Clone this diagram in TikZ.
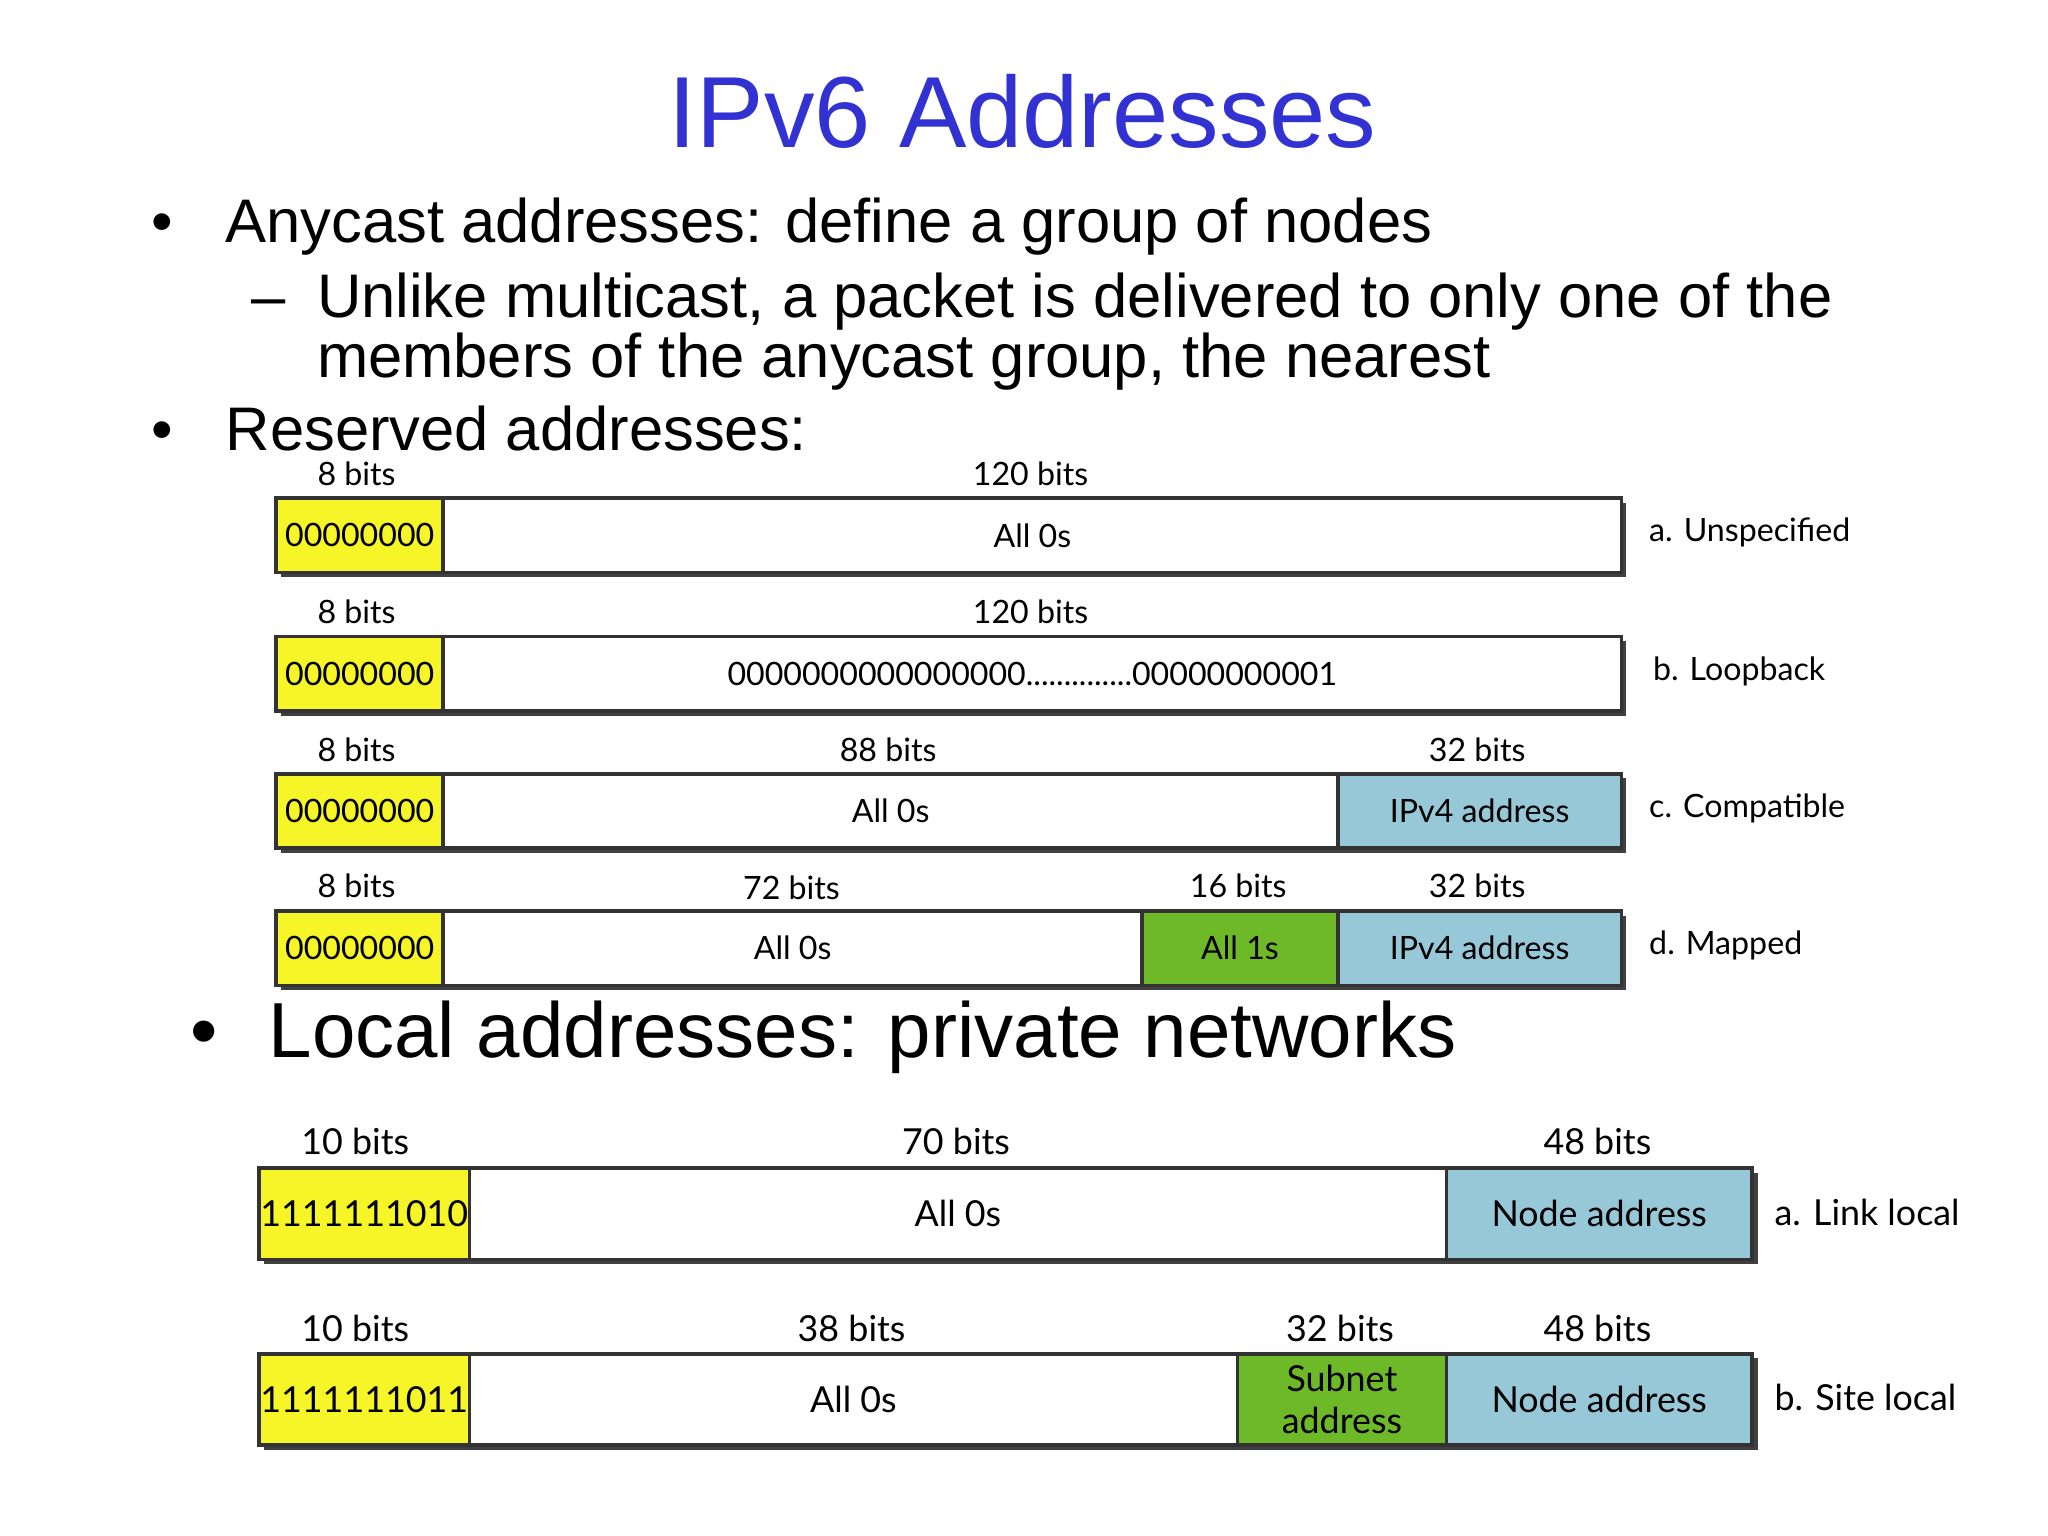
\documentclass[tikz,border=0pt]{standalone}
\usepackage{fontspec}
\setmainfont{Liberation Sans}
\newfontfamily\dfont{Lato}
\begin{document}
\begin{tikzpicture}[x=0.01cm,y=-0.01cm,
  fld/.style={draw=black!80,line width=0.8pt,minimum height=57*0.01cm,inner sep=0pt,anchor=north west,font=\dfont\fontsize{7}{8}\selectfont},
  fldb/.style={fld,minimum height=70*0.01cm,font=\dfont\fontsize{7.8}{8.5}\selectfont},
  bits/.style={font=\dfont\fontsize{7}{8}\selectfont,anchor=base,inner sep=0pt},
  bitsb/.style={font=\dfont\fontsize{7.8}{8.5}\selectfont,anchor=base,inner sep=0pt},
  lab/.style={font=\dfont\fontsize{7}{8}\selectfont,anchor=west,inner sep=0pt},
  labb/.style={font=\dfont\fontsize{7.8}{8.5}\selectfont,anchor=west,inner sep=0pt},
  body/.style={anchor=base west,inner sep=0pt,font=\fontsize{13.4}{14}\selectfont}]
\definecolor{yel}{RGB}{245,245,40}
\definecolor{blu}{RGB}{150,200,215}
\definecolor{grn}{RGB}{110,185,40}
\definecolor{ttl}{RGB}{50,50,210}
\useasboundingbox (0,0) rectangle (1568,1176);
\node[text=ttl,font=\fontsize{22}{24}\selectfont] (title) at (783,85) {IPv6 Addresses};
\node[body] (b1) at (115,186) {•};
\node[body] (t1) at (172,186) {Anycast addresses: define a group of nodes};
\node[body] (d1) at (192,243) {–};
\node[body] (t2) at (242,243) {Unlike multicast, a packet is delivered to only one of the};
\node[body] (t3) at (242,289) {members of the anycast group, the nearest};
\node[body] (b2) at (115,345) {•};
\node[body] (t4) at (172,345) {Reserved addresses:};
\node[body,font=\fontsize{17}{18}\selectfont] (b3) at (145,810) {•};
\node[body,font=\fontsize{17}{18}\selectfont] (t5) at (205,810) {Local addresses: private networks};
% shadows
\foreach \y in {380,486,591,696}{\fill[black!75] (215,\y+5) rectangle (1245,\y+62);}
\foreach \y in {893,1035}{\fill[black!75] (202,\y+5) rectangle (1346,\y+75);}
% row a
\node[fld,fill=yel,minimum width=128*0.01cm] (ay) at (210,380) {00000000};
\node[fld,fill=white,minimum width=902*0.01cm] (aw) at (338,380) {All 0s};
\node[bits] at (273,372) {8 bits}; \node[bits] at (789,372) {120 bits};
\node[lab] (al) at (1262,408) {a. Unspecified};
% row b
\node[fld,fill=yel,minimum width=128*0.01cm] (by) at (210,486) {00000000};
\node[fld,fill=white,minimum width=902*0.01cm] (bw) at (338,486) {0000000000000000..............00000000001};
\node[bits] at (273,477) {8 bits}; \node[bits] at (789,477) {120 bits};
\node[lab] (bl) at (1265,514) {b. Loopback};
% row c
\node[fld,fill=yel,minimum width=128*0.01cm] (cy) at (210,591) {00000000};
\node[fld,fill=white,minimum width=685*0.01cm] (cw) at (338,591) {All 0s};
\node[fld,fill=blu,minimum width=217*0.01cm] (cb) at (1023,591) {IPv4 address};
\node[bits] at (273,583) {8 bits}; \node[bits] at (680,583) {88 bits}; \node[bits] at (1131,583) {32 bits};
\node[lab] (cl) at (1262,619) {c. Compatible};
% row d
\node[fld,fill=yel,minimum width=128*0.01cm] (dy) at (210,696) {00000000};
\node[fld,fill=white,minimum width=535*0.01cm] (dw) at (338,696) {All 0s};
\node[fld,fill=grn,minimum width=150*0.01cm] (dg) at (873,696) {All 1s};
\node[fld,fill=blu,minimum width=217*0.01cm] (db) at (1023,696) {IPv4 address};
\node[bits] at (273,687) {8 bits}; \node[bits] at (606,689) {72 bits}; \node[bits] at (948,687) {16 bits}; \node[bits] at (1131,687) {32 bits};
\node[lab] (dl) at (1262,724) {d. Mapped};
% local a
\node[fldb,fill=yel,minimum width=161*0.01cm] (ey) at (197,893) {1111111010};
\node[fldb,fill=white,minimum width=748*0.01cm] (ew) at (358,893) {All 0s};
\node[fldb,fill=blu,minimum width=234*0.01cm] (eb) at (1106,893) {Node address};
\node[bitsb] at (272,884) {10 bits}; \node[bitsb] at (732,884) {70 bits}; \node[bitsb] at (1223,884) {48 bits};
\node[labb] (el) at (1358,928) {a. Link local};
% local b
\node[fldb,fill=yel,minimum width=161*0.01cm] (fy) at (197,1035) {1111111011};
\node[fldb,fill=white,minimum width=588*0.01cm] (fw) at (358,1035) {All 0s};
\node[fldb,fill=grn,minimum width=160*0.01cm,align=center,font=\dfont\fontsize{7.8}{9}\selectfont] (fg) at (946,1035) {Subnet\\address};
\node[fldb,fill=blu,minimum width=234*0.01cm] (fb) at (1106,1035) {Node address};
\node[bitsb] at (272,1027) {10 bits}; \node[bitsb] at (652,1027) {38 bits}; \node[bitsb] at (1026,1027) {32 bits}; \node[bitsb] at (1223,1027) {48 bits};
\node[labb] (fl) at (1358,1070) {b. Site local};
\end{tikzpicture}
\end{document}
